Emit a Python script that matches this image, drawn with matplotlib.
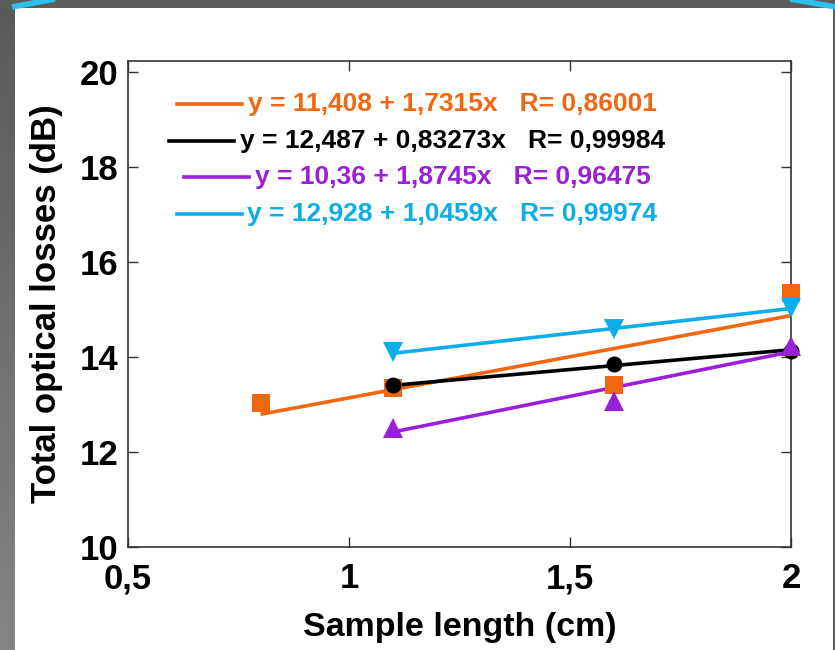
import numpy as np
import matplotlib
matplotlib.use("Agg")
import matplotlib.pyplot as plt
from matplotlib.lines import Line2D
from matplotlib.patches import Rectangle
from matplotlib.offsetbox import DrawingArea, TextArea, HPacker, VPacker, AnnotationBbox

# ---- data -------------------------------------------------------------
length_a = [0.8, 1.1, 1.6, 2.0]
loss_a = [13.03, 13.35, 13.41, 15.35]

length_b = [1.1, 1.6, 2.0]
loss_b = [13.41, 13.85, 14.12]
loss_c = [12.50, 13.07, 14.23]
loss_d = [14.10, 14.59, 15.03]

# linear fits: y = intercept + slope * x
intercepts = [11.408, 12.487, 10.36, 12.928]
slopes = [1.7315, 0.83273, 1.8745, 1.0459]
r_values = ["0,86001", "0,99984", "0,96475", "0,99974"]
intercept_txt = ["11,408", "12,487", "10,36", "12,928"]
slope_txt = ["1,7315", "0,83273", "1,8745", "1,0459"]

colors = ["#F0670F", "#000000", "#9B1FD8", "#0DADEA"]
markers = ["s", "o", "^", "v"]
marker_sizes = [13, 11.5, 14, 14]

x_ticks = [0.5, 1.0, 1.5, 2.0]
x_ticklabels = ["0,5", "1", "1,5", "2"]
y_ticks = [10, 12, 14, 16, 18, 20]
y_ticklabels = ["10", "12", "14", "16", "18", "20"]

series_x = [length_a, length_b, length_b, length_b]
series_y = [loss_a, loss_b, loss_c, loss_d]

FONT = ["Liberation Sans", "DejaVu Sans"]
plt.rcParams["font.family"] = FONT

W, H = 835, 650
fig = plt.figure(figsize=(W / 100, H / 100), dpi=100, facecolor="white")

# ---- slide frame ------------------------------------------------------
grad = np.linspace(0.35, 0.52, 256).reshape(-1, 1)
bar = fig.add_axes([0, 0, 15 / W, 1])
bar.imshow(grad, cmap="gray", vmin=0, vmax=1, aspect="auto", extent=[0, 1, 1, 0])
bar.set_axis_off()
fig.patches.append(Rectangle((0, 1 - 8 / H), 1, 8 / H, transform=fig.transFigure,
                             facecolor="#5c5c5c", edgecolor="none", zorder=1))
fig.patches.append(Rectangle((1 - 2 / W, 0), 2 / W, 1, transform=fig.transFigure,
                             facecolor="#5c5c5c", edgecolor="none", zorder=1))
for xs, ys in [([12, 55], [7, -1]), ([790, 836], [-1, 7])]:
    fig.add_artist(Line2D([x / W for x in xs], [1 - y / H for y in ys],
                          transform=fig.transFigure, color="#2BC0EE", lw=4,
                          solid_capstyle="butt", zorder=2))

# ---- main axes --------------------------------------------------------
ax = fig.add_axes([128 / W, 1 - 547 / H, (791 - 128) / W, (547 - 61) / H])
ax.set_facecolor("white")

for xs, ys, a, b, c, m, ms in zip(series_x, series_y, intercepts, slopes,
                                   colors, markers, marker_sizes):
    xf = np.array([min(xs), max(xs)])
    ax.plot(xf, a + b * xf, color=c, lw=2.6, zorder=2, solid_capstyle="butt")
    ax.plot(xs, ys, linestyle="none", marker=m, markersize=ms, color=c,
            markeredgewidth=0, zorder=3, clip_on=False)

ax.set_xlim(0.5, 2.0)
ax.set_ylim(10, 20.23)
ax.set_xticks(x_ticks)
ax.set_xticklabels(x_ticklabels)
ax.set_yticks(y_ticks)
ax.set_yticklabels(y_ticklabels)
ax.tick_params(direction="in", length=7, width=1, color="#333333",
               top=True, right=True, labelsize=25)
ax.tick_params(axis="x", pad=11)
ax.tick_params(axis="y", pad=7)
for lab in ax.get_xticklabels() + ax.get_yticklabels():
    lab.set_fontweight("bold")
for sp in ax.spines.values():
    sp.set_color("#333333")
    sp.set_linewidth(1.2)

ax.set_xlabel("Sample length (cm)", fontsize=24.5, fontweight="bold", labelpad=12)
ax.set_ylabel("Total optical losses (dB)", fontsize=25, fontweight="bold", labelpad=12)

# ---- fit equations key -----------------------------------------------
rows = []
for c, a, b, r in zip(colors, intercept_txt, slope_txt, r_values):
    da = DrawingArea(47, 14)
    da.add_artist(Line2D([0, 47], [7, 7], color=c, lw=2.6))
    ta = TextArea(f"y = {a} + {b}x   R= {r}",
                  textprops=dict(color=c, fontsize=19, fontweight="bold", family=FONT))
    rows.append(HPacker(children=[da, ta], sep=4, align="center", pad=0))
key = VPacker(children=rows, sep=9, align="center", pad=0)
ab = AnnotationBbox(key, (417 / W, 1 - 159 / H), xycoords="figure fraction",
                    box_alignment=(0.5, 0.5), frameon=False, zorder=5)
fig.add_artist(ab)

fig.savefig("out.png", dpi=100, facecolor=fig.get_facecolor())
